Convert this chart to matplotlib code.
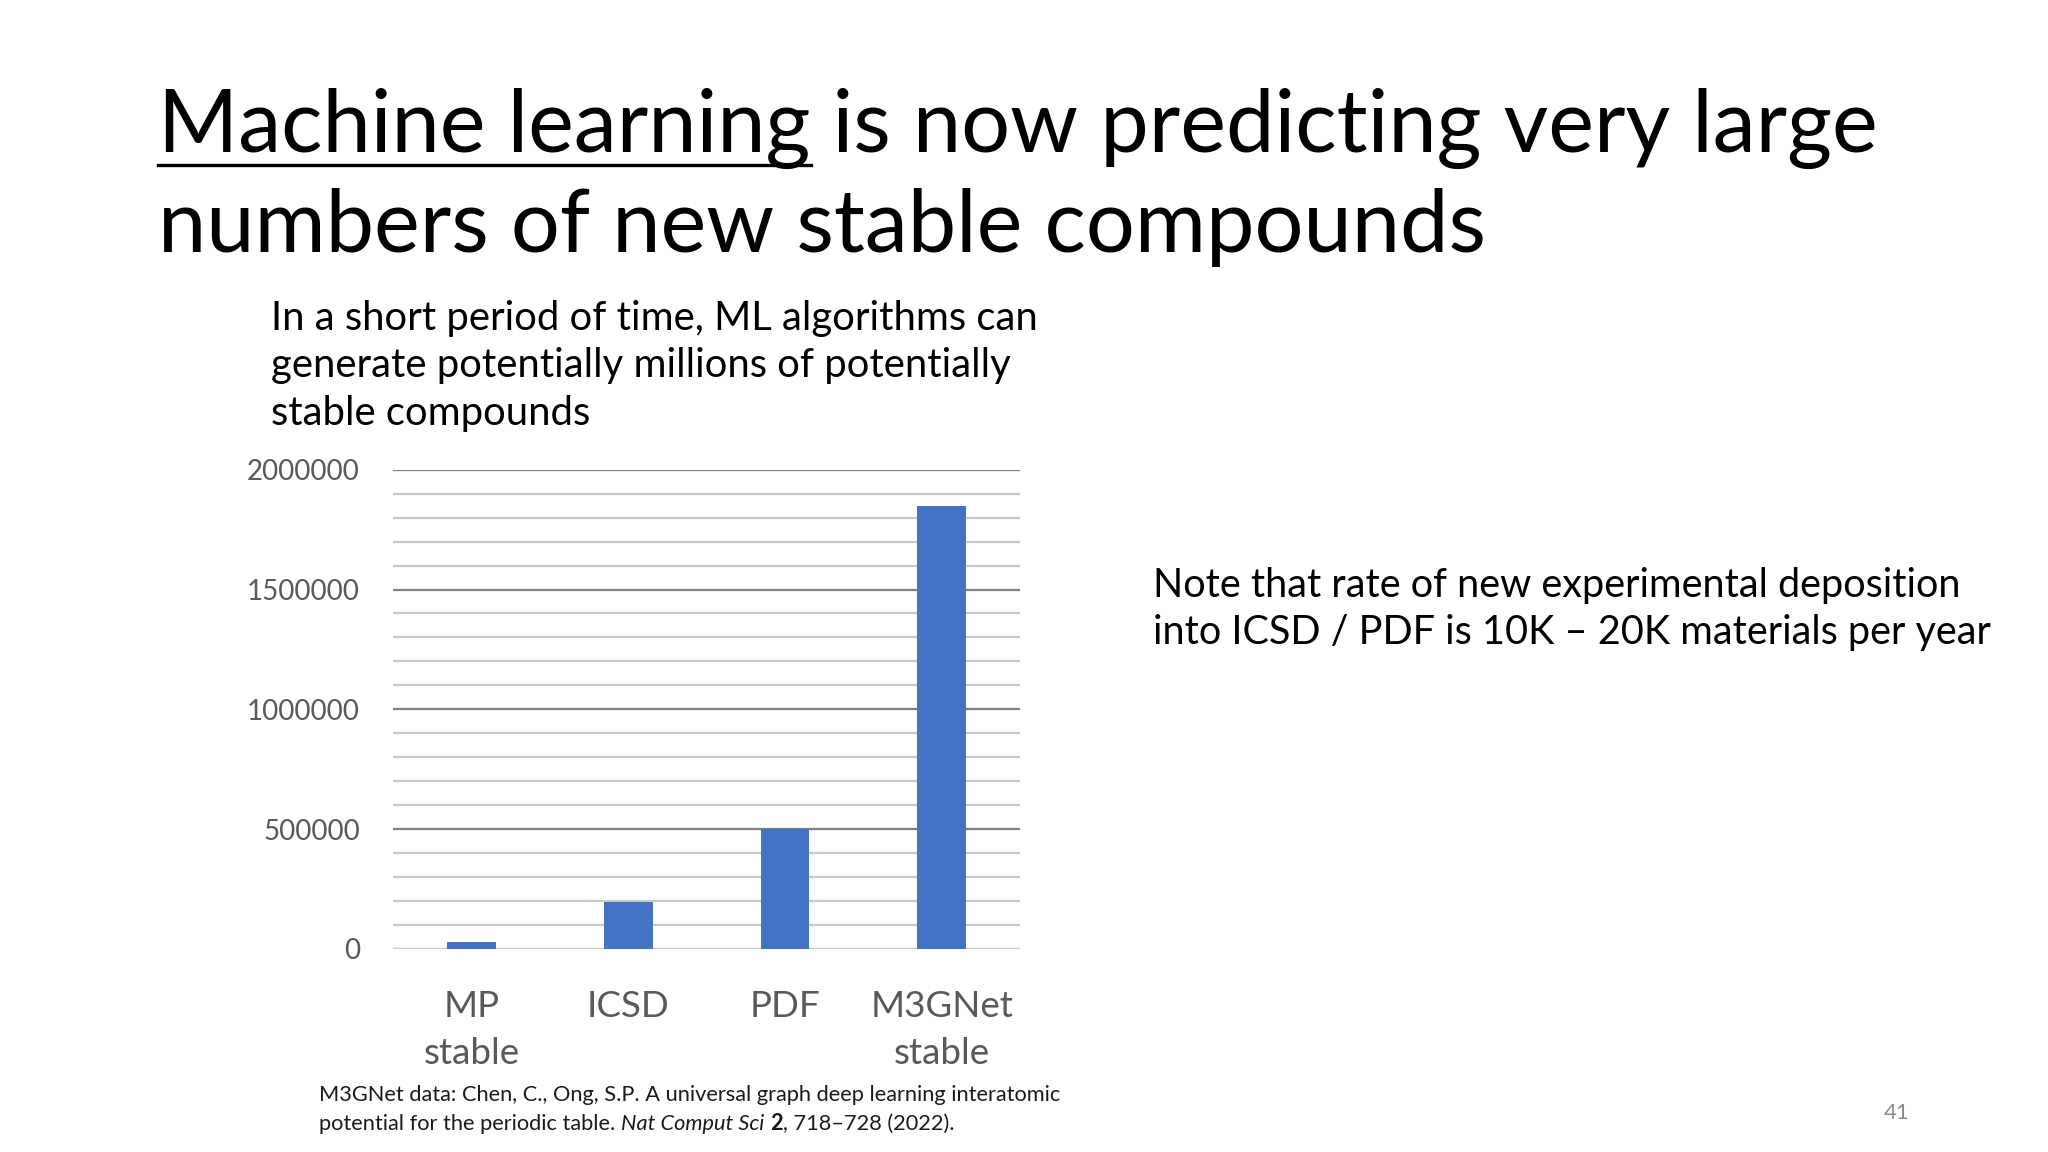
import matplotlib
matplotlib.use('Agg')
import matplotlib.pyplot as plt
from matplotlib.ticker import MultipleLocator, FuncFormatter, NullFormatter
from matplotlib.lines import Line2D
from matplotlib.transforms import blended_transform_factory

plt.rcParams['font.family'] = ['Lato', 'DejaVu Sans']

# data
categories = ['MP\nstable', 'ICSD', 'PDF', 'M3GNet\nstable']
counts = [28000, 195000, 500000, 1850000]

title_lines = ['Machine learning is now predicting very large',
               'numbers of new stable compounds']
underlined = 'Machine learning'
subtitle_lines = ['In a short period of time, ML algorithms can',
                  'generate potentially millions of potentially',
                  'stable compounds']
note_lines = ['Note that rate of new experimental deposition',
              'into ICSD / PDF is 10K \u2013 20K materials per year']
ref_line1 = 'M3GNet data: Chen, C., Ong, S.P. A universal graph deep learning interatomic'
ref_line2 = [('potential for the periodic table. ', 'normal', 'normal'),
             ('Nat Comput Sci', 'italic', 'normal'),
             (' ', 'normal', 'normal'),
             ('2', 'normal', 'bold'),
             (', 718\u2013728 (2022).', 'normal', 'normal')]
page_no = '41'

fig = plt.figure(figsize=(20.48, 11.52), dpi=100)
renderer = fig.canvas.get_renderer()


def text_width(s, **kw):
    # advance width in figure fraction, trailing spaces included
    t1 = fig.text(0, 0, s + '|', **kw)
    t2 = fig.text(0, 0, '|', **kw)
    w = t1.get_window_extent(renderer).width - t2.get_window_extent(renderer).width
    t1.remove()
    t2.remove()
    return w / fig.bbox.width


# chart
ax = fig.add_axes([0.192, 0.1764, 0.3061, 0.4158])
x = list(range(len(categories)))
ax.bar(x, counts, width=0.31, color='#4472C4', zorder=3)
ax.set_xlim(-0.5, len(categories) - 0.5)
ax.set_ylim(0, 2000000)
ax.yaxis.set_major_locator(MultipleLocator(500000))
ax.yaxis.set_minor_locator(MultipleLocator(100000))
ax.yaxis.set_major_formatter(FuncFormatter(lambda v, p: f'{int(v)}'))
ax.grid(which='major', axis='y', color='#7f7f7f', lw=1.6, zorder=1)
ax.grid(which='minor', axis='y', color='#c8c8c8', lw=1.6, zorder=1)
ax.axhline(0, color='#d9d9d9', lw=2.0, zorder=2)
for s in ax.spines.values():
    s.set_visible(False)
ax.tick_params(which='both', length=0)
ax.tick_params(axis='y', pad=24, labelsize=20, labelcolor='#595959')
ax.set_xticks(x)
ax.xaxis.set_major_formatter(NullFormatter())

# category labels, one text per line so the spacing matches the slide
trans = blended_transform_factory(ax.transData, fig.transFigure)
for xi, lab in zip(x, categories):
    for j, part in enumerate(lab.split('\n')):
        ax.text(xi, 0.1172 - j * 0.0405, part, transform=trans, ha='center',
                va='baseline', fontsize=26.5, color='#595959', clip_on=False)

# title with underlined first words
tx, ty = 0.0773, 0.8683
title_kw = dict(fontsize=62.3, color='black', va='baseline', ha='left')
for i, line in enumerate(title_lines):
    fig.text(tx, ty - i * 0.0871, line, **title_kw)
uw = text_width(underlined, **title_kw)
fig.add_artist(Line2D([tx, tx + uw], [ty - 0.0115, ty - 0.0115],
                      transform=fig.transFigure, color='black', lw=2.4))

# subtitle
for i, line in enumerate(subtitle_lines):
    fig.text(0.1321, 0.7136 - i * 0.0412, line, fontsize=28.8, color='black',
             va='baseline', ha='left')

# note on the right
for i, line in enumerate(note_lines):
    fig.text(0.5631, 0.4822 - i * 0.0412, line, fontsize=28.5, color='black',
             va='baseline', ha='left')

# reference
ref_kw = dict(fontsize=15.7, color='#1a1a1a', va='baseline', ha='left')
fig.text(0.1559, 0.0447, ref_line1, **ref_kw)
cx = 0.1559
for s, style, weight in ref_line2:
    fig.text(cx, 0.0195, s, style=style, weight=weight, **ref_kw)
    cx += text_width(s, style=style, weight=weight, **ref_kw)

fig.text(0.926, 0.0286, page_no, fontsize=16, color='#8c8c8c',
         ha='center', va='baseline')

fig.savefig('out.png', dpi=100, facecolor='white')
